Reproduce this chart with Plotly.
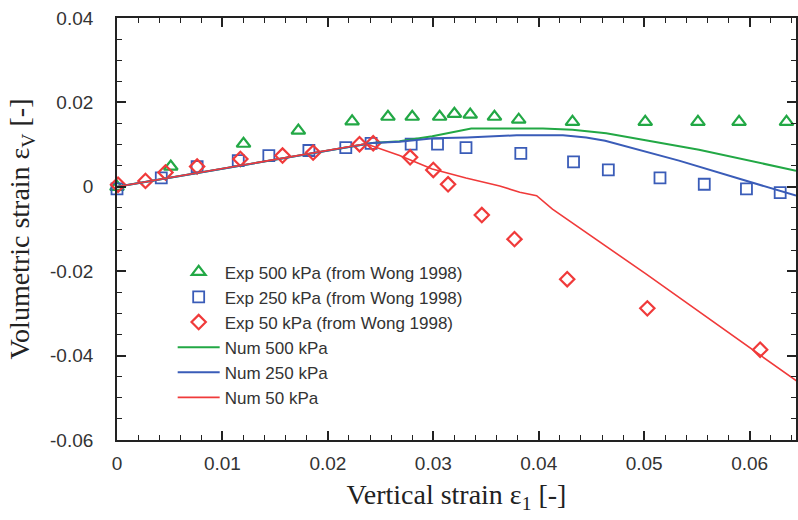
import plotly.graph_objects as go

# Experimental data (Wong 1998)
exp500_x = [0.0, 0.0051, 0.0120, 0.0172, 0.0223, 0.0257, 0.0280, 0.0306, 0.0320, 0.0335,
            0.0358, 0.0381, 0.0432, 0.0501, 0.0551, 0.0590, 0.0635]
exp500_y = [0.0, 0.0048, 0.0102, 0.0133, 0.0155, 0.0166, 0.0166, 0.0166, 0.0173, 0.0171,
            0.0166, 0.0159, 0.0154, 0.0154, 0.0154, 0.0154, 0.0154]

exp250_x = [0.0, 0.0042, 0.0076, 0.0115, 0.0144, 0.0182, 0.0217, 0.0241, 0.0279, 0.0304,
            0.0331, 0.0383, 0.0433, 0.0466, 0.0515, 0.0557, 0.0597, 0.0629]
exp250_y = [-0.0005, 0.0021, 0.0048, 0.0062, 0.0074, 0.0086, 0.0093, 0.0103, 0.0101, 0.0101,
            0.0093, 0.0079, 0.0059, 0.0040, 0.0021, 0.0006, -0.0005, -0.0014]

exp50_x = [0.0001, 0.0027, 0.0046, 0.0076, 0.0117, 0.0157, 0.0186, 0.0230, 0.0243, 0.0278,
           0.0300, 0.0314, 0.0346, 0.0377, 0.0427, 0.0503, 0.0610]
exp50_y = [0.0005, 0.0014, 0.0034, 0.0048, 0.0066, 0.0074, 0.0081, 0.0101, 0.0103, 0.0070,
           0.0040, 0.0006, -0.0067, -0.0124, -0.0219, -0.0288, -0.0386]

# Numerical results
num500_x = [0.0, 0.0242, 0.0268, 0.0299, 0.0336, 0.0404, 0.0432, 0.0464, 0.0504, 0.0552, 0.0644]
num500_y = [0.0, 0.0104, 0.0108, 0.0120, 0.0138, 0.0138, 0.0135, 0.0127, 0.0109, 0.0088, 0.0038]

num250_x = [0.0, 0.0242, 0.0268, 0.0300, 0.0332, 0.0379, 0.0423, 0.0445, 0.0463, 0.0533, 0.0644]
num250_y = [0.0, 0.0104, 0.0107, 0.0115, 0.0117, 0.0122, 0.0122, 0.0117, 0.0109, 0.0062, -0.0021]

num50_x = [0.0, 0.0236, 0.0268, 0.0299, 0.0331, 0.0363, 0.0382, 0.0398, 0.0413, 0.0502, 0.0645]
num50_y = [0.0, 0.0102, 0.0074, 0.0042, 0.0021, 0.0002, -0.0013, -0.0021, -0.0053, -0.0207, -0.0461]

y_ticks = [0.04, 0.02, 0.0, -0.02, -0.04, -0.06]
y_ticktext = ["0.04", "0.02", "0", "-0.02", "-0.04", "-0.06"]
x_ticks = [0.0, 0.01, 0.02, 0.03, 0.04, 0.05, 0.06]
x_ticktext = ["0", "0.01", "0.02", "0.03", "0.04", "0.05", "0.06"]

GREEN = "#22a845"
BLUE = "#3a5cb8"
RED = "#f03a3a"

fig = go.Figure()

fig.add_trace(go.Scatter(x=exp500_x, y=exp500_y, mode="markers", name="Exp 500 kPa (from Wong 1998)",
                         marker=dict(symbol="triangle-up-open", size=12, color=GREEN, line=dict(width=2.2, color=GREEN)),
                         cliponaxis=False))
fig.add_trace(go.Scatter(x=exp250_x, y=exp250_y, mode="markers", name="Exp 250 kPa (from Wong 1998)",
                         marker=dict(symbol="square-open", size=11, color=BLUE, line=dict(width=1.8, color=BLUE)),
                         cliponaxis=False))
fig.add_trace(go.Scatter(x=exp50_x, y=exp50_y, mode="markers", name="Exp 50 kPa (from Wong 1998)",
                         marker=dict(symbol="diamond-open", size=11, color=RED, line=dict(width=2.2, color=RED)),
                         cliponaxis=False))
fig.add_trace(go.Scatter(x=num500_x, y=num500_y, mode="lines", name="Num 500 kPa",
                         line=dict(color=GREEN, width=2)))
fig.add_trace(go.Scatter(x=num250_x, y=num250_y, mode="lines", name="Num 250 kPa",
                         line=dict(color=BLUE, width=2)))
fig.add_trace(go.Scatter(x=num50_x, y=num50_y, mode="lines", name="Num 50 kPa",
                         line=dict(color=RED, width=1.6, dash="solid")))

axis_common = dict(
    showgrid=False, zeroline=False, showline=True, linecolor="#222", linewidth=1.8,
    mirror="allticks", ticks="inside", tickcolor="#222", tickwidth=1.5, ticklen=9,
    tickfont=dict(family="Liberation Sans, Arial", size=19, color="#333"),
)

fig.update_xaxes(
    range=[0, 0.0644], tickmode="array", tickvals=x_ticks, ticktext=x_ticktext,
    minor=dict(dtick=0.002, tick0=0, ticks="inside", ticklen=5, tickcolor="#222", tickwidth=1.2),
    title=dict(text="Vertical strain ε<sub>1</sub> [-]", standoff=12,
               font=dict(family="Liberation Serif, Times New Roman", size=28, color="#222")),
    ticklabelstandoff=5,
    **axis_common,
)
fig.update_yaxes(
    range=[-0.06, 0.04], tickmode="array", tickvals=y_ticks, ticktext=y_ticktext,
    minor=dict(dtick=0.005, tick0=0, ticks="inside", ticklen=5, tickcolor="#222", tickwidth=1.2),
    title=dict(text="Volumetric strain ε<sub>V</sub> [-]", standoff=12,
               font=dict(family="Liberation Serif, Times New Roman", size=28, color="#222")),
    ticklabelstandoff=18,
    **axis_common,
)

fig.update_layout(
    width=798, height=520,
    margin=dict(l=117, r=0, t=18, b=80),
    paper_bgcolor="white", plot_bgcolor="white",
    showlegend=True,
    legend=dict(x=0.082, y=0.44, xanchor="left", yanchor="top",
                bgcolor="rgba(0,0,0,0)", borderwidth=0,
                font=dict(family="Liberation Sans, Arial", size=17, color="#333"),
                tracegroupgap=0, itemwidth=42),
)

fig.write_html("out.html")
